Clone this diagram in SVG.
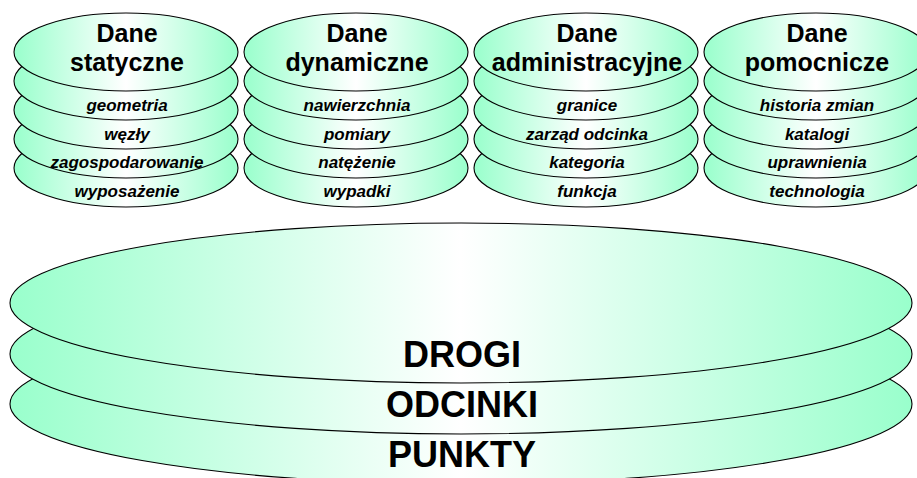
<svg xmlns="http://www.w3.org/2000/svg" width="917" height="478" viewBox="0 0 917 478">
  <defs>
    <linearGradient id="mint" x1="0" y1="0" x2="1" y2="0" gradientUnits="objectBoundingBox">
      <stop offset="0" stop-color="#99ffcc"/>
      <stop offset="0.25" stop-color="#ccffe6"/>
      <stop offset="0.5" stop-color="#ffffff"/>
      <stop offset="0.75" stop-color="#ccffe6"/>
      <stop offset="1" stop-color="#99ffcc"/>
    </linearGradient>
    <ellipse id="disc" cx="0" cy="0" rx="112" ry="39"/>
  </defs>
  <style>
    .layer { fill: url(#mint); stroke: #000; stroke-width: 1.1; }
    .big { fill: url(#mint); stroke: #000; stroke-width: 1.1; }
    .title { font-family: "Liberation Sans", Arial, sans-serif; font-weight: bold; font-size: 25px; fill: #000; text-anchor: middle; }
    .item { font-family: "Liberation Sans", Arial, sans-serif; font-weight: bold; font-style: italic; font-size: 17px; fill: #000; text-anchor: middle; }
    .main { font-family: "Liberation Sans", Arial, sans-serif; font-weight: bold; font-size: 36px; fill: #000; text-anchor: middle; }
  </style>

  <g id="dane-statyczne">
    <use href="#disc" x="126" y="168" class="layer"/>
    <use href="#disc" x="126" y="139" class="layer"/>
    <use href="#disc" x="126" y="110" class="layer"/>
    <use href="#disc" x="126" y="81" class="layer"/>
    <use href="#disc" x="126" y="52" class="layer"/>
    <text class="title" x="127" y="42">Dane</text>
    <text class="title" x="127" y="71">statyczne</text>
    <text class="item" x="127" y="111">geometria</text>
    <text class="item" x="127" y="140">węzły</text>
    <text class="item" x="127" y="168">zagospodarowanie</text>
    <text class="item" x="127" y="197">wyposażenie</text>
  </g>

  <g id="dane-dynamiczne">
    <use href="#disc" x="356" y="168" class="layer"/>
    <use href="#disc" x="356" y="139" class="layer"/>
    <use href="#disc" x="356" y="110" class="layer"/>
    <use href="#disc" x="356" y="81" class="layer"/>
    <use href="#disc" x="356" y="52" class="layer"/>
    <text class="title" x="357" y="42">Dane</text>
    <text class="title" x="357" y="71">dynamiczne</text>
    <text class="item" x="357" y="111">nawierzchnia</text>
    <text class="item" x="357" y="140">pomiary</text>
    <text class="item" x="357" y="168">natężenie</text>
    <text class="item" x="357" y="197">wypadki</text>
  </g>

  <g id="dane-administracyjne">
    <use href="#disc" x="586" y="168" class="layer"/>
    <use href="#disc" x="586" y="139" class="layer"/>
    <use href="#disc" x="586" y="110" class="layer"/>
    <use href="#disc" x="586" y="81" class="layer"/>
    <use href="#disc" x="586" y="52" class="layer"/>
    <text class="title" x="587" y="42">Dane</text>
    <text class="title" x="587" y="71">administracyjne</text>
    <text class="item" x="587" y="111">granice</text>
    <text class="item" x="587" y="140">zarząd odcinka</text>
    <text class="item" x="587" y="168">kategoria</text>
    <text class="item" x="587" y="197">funkcja</text>
  </g>

  <g id="dane-pomocnicze">
    <use href="#disc" x="816" y="168" class="layer"/>
    <use href="#disc" x="816" y="139" class="layer"/>
    <use href="#disc" x="816" y="110" class="layer"/>
    <use href="#disc" x="816" y="81" class="layer"/>
    <use href="#disc" x="816" y="52" class="layer"/>
    <text class="title" x="817" y="42">Dane</text>
    <text class="title" x="817" y="71">pomocnicze</text>
    <text class="item" x="817" y="111">historia zmian</text>
    <text class="item" x="817" y="140">katalogi</text>
    <text class="item" x="817" y="168">uprawnienia</text>
    <text class="item" x="817" y="197">technologia</text>
  </g>

  <g id="drogi-odcinki-punkty">
    <ellipse class="big" cx="461" cy="404" rx="451" ry="80"/>
    <ellipse class="big" cx="461" cy="354" rx="451" ry="80"/>
    <ellipse class="big" cx="461" cy="303" rx="451" ry="80"/>
    <text class="main" x="462" y="367">DROGI</text>
    <text class="main" x="462" y="417">ODCINKI</text>
    <text class="main" x="462" y="467">PUNKTY</text>
  </g>
</svg>
